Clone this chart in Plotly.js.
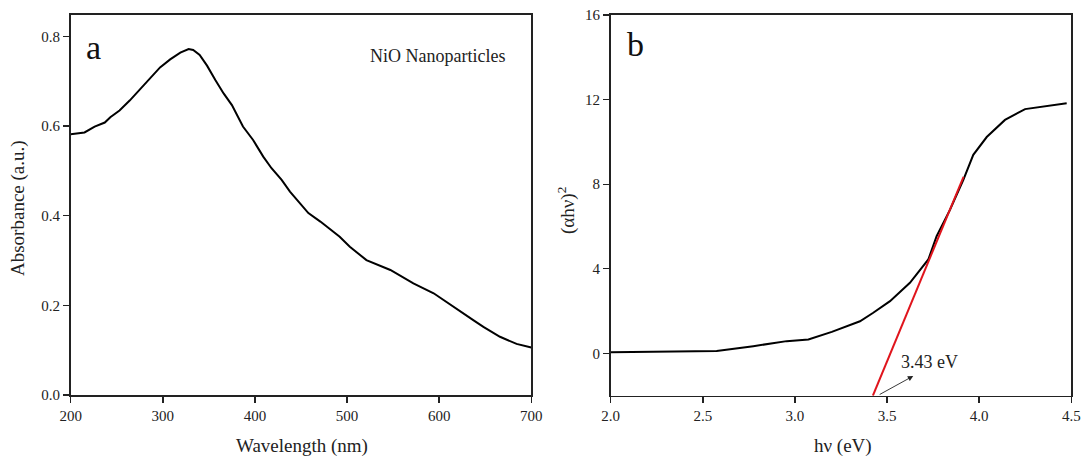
<!DOCTYPE html>
<html>
<head>
<meta charset="utf-8">
<script src="https://cdn.plot.ly/plotly-3.0.1.min.js"></script>
<style>
html,body{margin:0;padding:0;background:#fff;}
#chart{width:1083px;height:459px;}
</style>
</head>
<body>
<div id="chart"></div>
<script>
// Panel a: UV-Vis absorbance
const wavelength = [200, 215, 226, 237, 243, 253, 264, 275, 286, 297, 308, 319, 328, 333, 340, 348, 357, 366, 375, 387, 398, 409, 418, 429, 438, 449, 458, 471, 485, 492, 503, 521, 547, 572, 594, 615, 637, 648, 666, 684, 700];
const absorbance = [0.582, 0.586, 0.599, 0.608, 0.620, 0.635, 0.657, 0.681, 0.707, 0.731, 0.749, 0.764, 0.772, 0.770, 0.759, 0.735, 0.703, 0.673, 0.647, 0.599, 0.569, 0.532, 0.506, 0.480, 0.454, 0.428, 0.406, 0.387, 0.365, 0.353, 0.331, 0.301, 0.279, 0.249, 0.227, 0.197, 0.167, 0.152, 0.130, 0.114, 0.106];

// Panel b: Tauc plot
const energy = [2.0, 2.2, 2.4, 2.575, 2.774, 2.955, 3.073, 3.2, 3.353, 3.425, 3.516, 3.624, 3.724, 3.769, 3.842, 3.914, 3.968, 4.041, 4.14, 4.249, 4.475];
const ahv2 = [0.05, 0.08, 0.08, 0.11, 0.34, 0.58, 0.66, 1.02, 1.52, 1.92, 2.47, 3.34, 4.44, 5.54, 6.80, 8.21, 9.39, 10.23, 11.04, 11.55, 11.83];

// Linear fit (tangent) line
const fitX = [3.423, 3.915];
const fitY = [-2.0, 8.35];

const bandGapLabel = "3.43 eV";
const xTicksA = [200, 300, 400, 500, 600, 700];
const yTicksA = [0.0, 0.2, 0.4, 0.6, 0.8];
const xTicksB = [2.0, 2.5, 3.0, 3.5, 4.0, 4.5];
const yTicksB = [0, 4, 8, 12, 16];

const W = 1083, H = 459;
const px = v => v / W;
const py = v => 1 - v / H;

const serif = "Liberation Serif, Times New Roman, serif";
const tickFont = {family: serif, size: 15, color: "#222"};
const titleFont = {family: serif, size: 19, color: "#222"};

const axisBase = {
  showline: true, linecolor: "#222", linewidth: 1.6, mirror: true,
  ticks: "outside", ticklen: 6, tickwidth: 1.4, tickcolor: "#222",
  showgrid: false, zeroline: false, tickfont: tickFont, fixedrange: true
};

const traces = [
  {x: wavelength, y: absorbance, xaxis: "x", yaxis: "y", type: "scatter", mode: "lines",
   line: {color: "#000", width: 2}, hoverinfo: "skip"},
  {x: energy, y: ahv2, xaxis: "x2", yaxis: "y2", type: "scatter", mode: "lines",
   line: {color: "#000", width: 2}, hoverinfo: "skip"},
  {x: fitX, y: fitY, xaxis: "x2", yaxis: "y2", type: "scatter", mode: "lines",
   line: {color: "#e0141c", width: 2}, hoverinfo: "skip"}
];

const layout = {
  width: W, height: H,
  margin: {l: 0, r: 0, t: 0, b: 0},
  paper_bgcolor: "#fff", plot_bgcolor: "#fff",
  showlegend: false,
  xaxis: Object.assign({}, axisBase, {domain: [px(70.7), px(531.3)], range: [200, 700],
    tickvals: xTicksA, anchor: "y"}),
  yaxis: Object.assign({}, axisBase, {domain: [py(395), py(15)], range: [0, 0.848],
    tickvals: yTicksA, tickformat: ".1f", anchor: "x"}),
  xaxis2: Object.assign({}, axisBase, {domain: [px(610.7), px(1071.3)], range: [2.0, 4.5],
    tickvals: xTicksB, tickformat: ".1f", anchor: "y2"}),
  yaxis2: Object.assign({}, axisBase, {domain: [py(395.7), py(15)], range: [-2, 16],
    tickvals: yTicksB, anchor: "x2"}),
  annotations: [
    {xref: "paper", yref: "paper", x: px(18), y: py(208), text: "Absorbance (a.u.)",
     textangle: -90, showarrow: false, font: titleFont, xanchor: "center", yanchor: "middle"},
    {xref: "paper", yref: "paper", x: px(302), y: py(458), text: "Wavelength (nm)",
     showarrow: false, font: titleFont, xanchor: "center", yanchor: "bottom", borderpad: 0},
    {xref: "paper", yref: "paper", x: px(566), y: py(211), text: "(αhν)<sup>2</sup>",
     textangle: -90, showarrow: false, font: titleFont, xanchor: "center", yanchor: "middle"},
    {xref: "paper", yref: "paper", x: px(843), y: py(458), text: "hν (eV)",
     showarrow: false, font: titleFont, xanchor: "center", yanchor: "bottom", borderpad: 0},
    {xref: "paper", yref: "paper", x: px(93), y: py(47), text: "a",
     showarrow: false, font: {family: serif, size: 34, color: "#111"}, xanchor: "center", yanchor: "middle"},
    {xref: "paper", yref: "paper", x: px(635), y: py(45), text: "b",
     showarrow: false, font: {family: serif, size: 34, color: "#111"}, xanchor: "center", yanchor: "middle"},
    {xref: "paper", yref: "paper", x: px(437.5), y: py(56), text: "NiO Nanoparticles",
     showarrow: false, font: {family: serif, size: 18, color: "#222"}, xanchor: "center", yanchor: "middle"},
    {xref: "x2", yref: "y2", x: 3.731, y: -0.40, text: bandGapLabel,
     showarrow: false, font: {family: serif, size: 18, color: "#222"}, xanchor: "center", yanchor: "middle"},
    {xref: "x2", yref: "y2", axref: "x2", ayref: "y2", x: 3.642, y: -1.07, ax: 3.452, ay: -1.98,
     text: "", showarrow: true, arrowhead: 2, arrowsize: 1.2, arrowwidth: 0.9, arrowcolor: "#222"}
  ]
};

Plotly.newPlot("chart", traces, layout, {staticPlot: true, displayModeBar: false});
</script>
</body>
</html>
